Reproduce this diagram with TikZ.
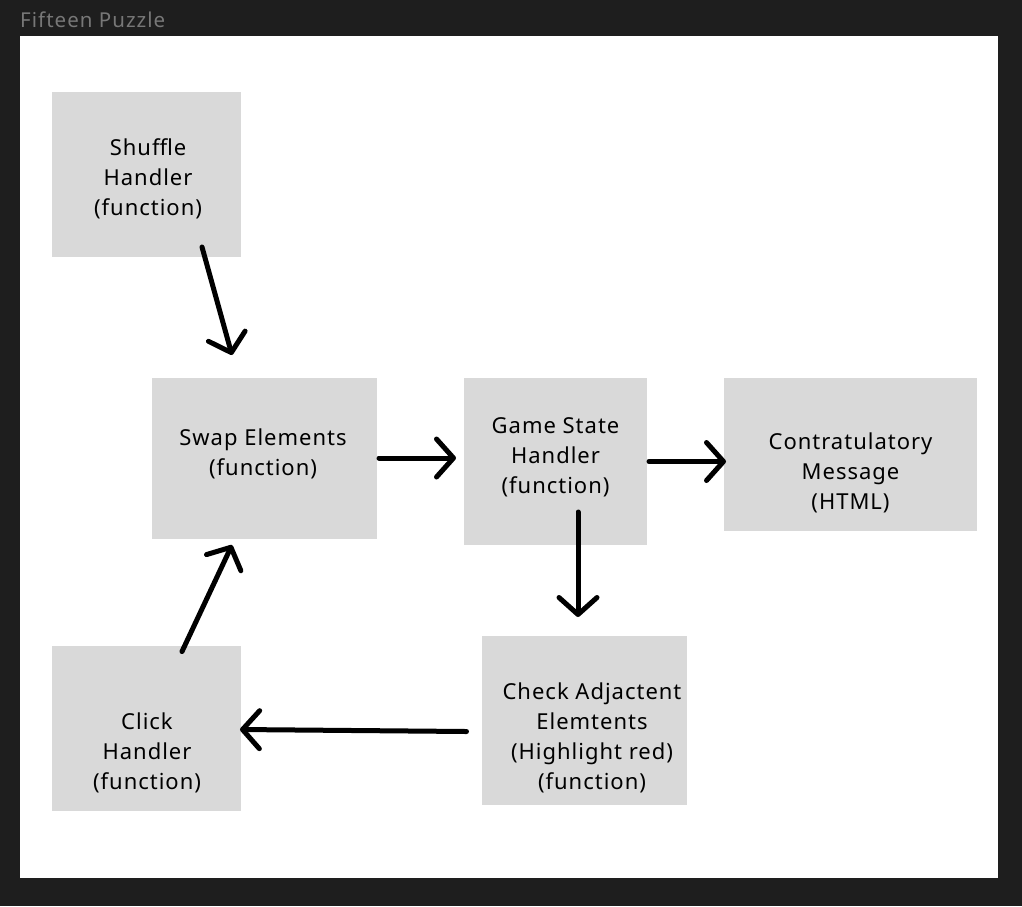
\documentclass[tikz,border=0pt]{standalone}
\usepackage{fontspec}
\setmainfont{Noto Sans}[LetterSpace=4.5]
\newfontfamily\titlefont{Noto Sans}[LetterSpace=5]
\usetikzlibrary{arrows.meta}
\definecolor{bgdark}{HTML}{1E1E1E}
\definecolor{boxgray}{HTML}{D9D9D9}
\definecolor{titlegray}{HTML}{777777}
\tikzset{
  box/.style={fill=boxgray, draw=none, inner sep=0pt},
  lbl/.style={align=center, inner sep=0pt, font=\fontsize{22}{30}\selectfont},
  flow/.style={line width=5pt, line cap=round, line join=round,
    -{Straight Barb[length=17pt, width=38pt, line cap=round, line join=round]}},
}
\begin{document}
\begin{tikzpicture}[x=1pt, y=-1pt]
\fill[bgdark] (0,0) rectangle (1022,906);
\useasboundingbox (0,0) rectangle (1022,906);
\fill[white] (20,36) rectangle (998,878);
\node[anchor=west, inner sep=0pt, text=titlegray, font=\titlefont\fontsize{20.5}{22}\selectfont] (title) at (20,20) {Fifteen Puzzle};

% boxes
\node[box, minimum width=189pt, minimum height=165pt] (shuffle) at (146.5,174.5) {};
\node[box, minimum width=225pt, minimum height=161pt] (swap) at (264.5,458.5) {};
\node[box, minimum width=183pt, minimum height=167pt] (game) at (555.5,461.5) {};
\node[box, minimum width=253pt, minimum height=153pt] (msg) at (850.5,454.5) {};
\node[box, minimum width=205pt, minimum height=169pt] (check) at (584.5,720.5) {};
\node[box, minimum width=189pt, minimum height=165pt] (click) at (146.5,728.5) {};

% labels
\node[lbl] (tshuffle) at (148,179) {Shuffle\\Handler\\(function)};
\node[lbl] (tswap) at (263,454) {Swap Elements\\(function)};
\node[lbl] (tgame) at (555.5,457) {Game State\\Handler\\(function)};
\node[lbl] (tmsg) at (850.5,473) {Contratulatory\\Message\\(HTML)};
\node[lbl] (tcheck) at (592,738) {Check Adjactent\\Elemtents\\(Highlight red)\\(function)};
\node[lbl] (tclick) at (147,753) {Click\\Handler\\(function)};

% connector end points
\coordinate (a1s) at (202,247);
\coordinate (a1e) at (232,355);
\coordinate (a2s) at (379,458);
\coordinate (a2e) at (456,458);
\coordinate (a3s) at (649,461.5);
\coordinate (a3e) at (726,461.5);
\coordinate (a4s) at (578,512);
\coordinate (a4e) at (578,617);
\coordinate (a5s) at (466.5,731.5);
\coordinate (a5e) at (240,729.5);
\coordinate (a6s) at (182,651.5);
\coordinate (a6e) at (232,545);

\draw[flow] (a1s) -- (a1e);
\draw[flow] (a2s) -- (a2e);
\draw[flow] (a3s) -- (a3e);
\draw[flow] (a4s) -- (a4e);
\draw[flow] (a5s) -- (a5e);
\draw[flow] (a6s) -- (a6e);
\end{tikzpicture}
\end{document}
